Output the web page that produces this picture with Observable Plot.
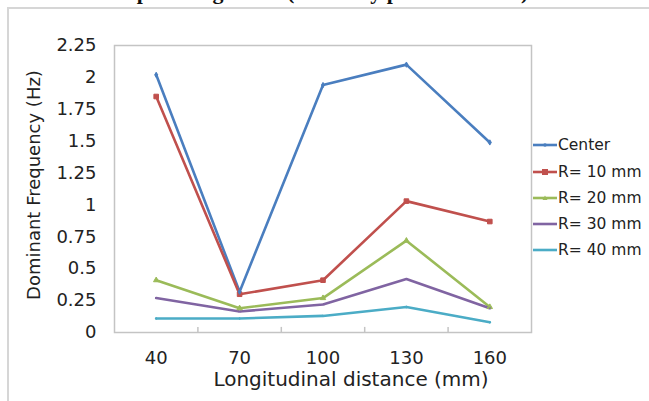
<!DOCTYPE html>
<html>
<head>
<meta charset="utf-8">
<script src="https://cdn.jsdelivr.net/npm/d3@7"></script>
<script src="https://cdn.jsdelivr.net/npm/@observablehq/plot@0.6"></script>
<style>
  html, body { margin: 0; padding: 0; background: #fff; }
  body { width: 649px; height: 401px; position: relative; overflow: hidden; font-family: "DejaVu Sans", sans-serif; }
  #title { position: absolute; left: 8px; top: -19px; width: 649px; text-align: center; font: bold 22px "Liberation Serif", serif; line-height: 22px; color: #111; white-space: nowrap; }
  #box { position: absolute; left: 7px; top: 7px; width: 700px; height: 500px; border: 2px solid #d6d6d6; box-sizing: border-box; }
  #chart { position: absolute; left: 0; top: 0; }
  #legend { position: absolute; left: 532px; top: 0; }
  .row { position: absolute; left: 0; height: 20px; display: flex; align-items: center; white-space: nowrap; font-size: 15.5px; color: #222; }
  .row svg { margin-right: 1px; }
</style>
</head>
<body>
<div id="title"></div>
<div id="box"></div>
<div id="chart"></div>
<div id="legend"></div>
<script>
const titleText = "pulsating flame (naturally preferred case)";
const xTitle = "Longitudinal distance (mm)";
const yTitle = "Dominant Frequency (Hz)";
const distances = [40, 70, 100, 130, 160];
const yTicks = [0, 0.25, 0.5, 0.75, 1, 1.25, 1.5, 1.75, 2, 2.25];
const seriesNames = ["Center", "R= 10 mm", "R= 20 mm", "R= 30 mm", "R= 40 mm"];
const center = [2.02, 0.32, 1.94, 2.10, 1.49];
const r10 = [1.85, 0.30, 0.41, 1.03, 0.87];
const r20 = [0.41, 0.19, 0.27, 0.72, 0.20];
const r30 = [0.27, 0.165, 0.22, 0.42, 0.19];
const r40 = [0.11, 0.11, 0.13, 0.20, 0.08];
const colors = ["#4a7ebf", "#c0504d", "#9bbb59", "#8064a2", "#4bacc6"];
const symbols = ["diamond", "square", "triangle", "times", "circle"];
const markerSizes = [1.6, 2.6, 2, 0.8, 0.8];

document.getElementById("title").textContent = titleText;

const allSeries = [center, r10, r20, r30, r40];
const rows = [];
allSeries.forEach((vals, i) => vals.forEach((v, j) => rows.push({series: seriesNames[i], distance: distances[j], value: v, size: markerSizes[i]})));

const step = distances[1] - distances[0];
const boundaries = distances.slice(0, -1).map(d => d + step / 2);

const chart = Plot.plot({
  width: 649,
  height: 401,
  marginLeft: 114,
  marginRight: 118,
  marginTop: 45,
  marginBottom: 69,
  style: {fontFamily: "DejaVu Sans", color: "#222", background: "transparent", overflow: "visible"},
  x: {domain: [distances[0] - step / 2, distances[distances.length - 1] + step / 2]},
  y: {domain: [yTicks[0], yTicks[yTicks.length - 1]]},
  color: {domain: seriesNames, range: colors},
  symbol: {domain: seriesNames, range: symbols},
  r: {type: "identity"},
  marks: [
    Plot.frame({stroke: "#c4c4c4", strokeWidth: 1.5}),
    Plot.ruleX(boundaries, {y1: 0, y2: 0.04, stroke: "#c4c4c4", strokeWidth: 1.5}),
    Plot.axisX({ticks: distances, tickSize: 0, tickPadding: 19, fontSize: 18, label: null}),
    Plot.axisY({ticks: yTicks, tickSize: 0, tickPadding: 18, fontSize: 18, label: null, tickFormat: d => String(d)}),
    Plot.line(rows, {x: "distance", y: "value", z: "series", stroke: "series", strokeWidth: 2.6}),
    Plot.dot(rows, {x: "distance", y: "value", symbol: "series", fill: "series", stroke: "series", r: "size", strokeWidth: 1}),
    Plot.text([yTitle], {frameAnchor: "left", dx: -80, dy: -4, rotate: -90, textAnchor: "middle", lineAnchor: "middle", fontSize: 18, fill: "#222"}),
    Plot.text([xTitle], {frameAnchor: "bottom", dx: 28, dy: 53, fontSize: 20, fill: "#222"})
  ]
});
document.getElementById("chart").appendChild(chart);

const legend = document.getElementById("legend");
const rowY = [145, 172, 198, 224, 250];
seriesNames.forEach((name, i) => {
  const row = document.createElement("div");
  row.className = "row";
  row.style.top = (rowY[i] - 10) + "px";
  let marker = "";
  if (i === 1) marker = `<rect x="10" y="7" width="6" height="6" fill="${colors[i]}"/>`;
  else if (i === 0) marker = `<circle cx="13" cy="10" r="1.8" fill="${colors[i]}"/>`;
  else if (i === 2) marker = `<path d="M13,7.5L15.5,12L10.5,12Z" fill="${colors[i]}"/>`;
  row.innerHTML = `<svg width="25" height="20"><line x1="1" x2="25" y1="10" y2="10" stroke="${colors[i]}" stroke-width="2.6"/>${marker}</svg><span>${name}</span>`;
  legend.appendChild(row);
});
</script>
</body>
</html>
